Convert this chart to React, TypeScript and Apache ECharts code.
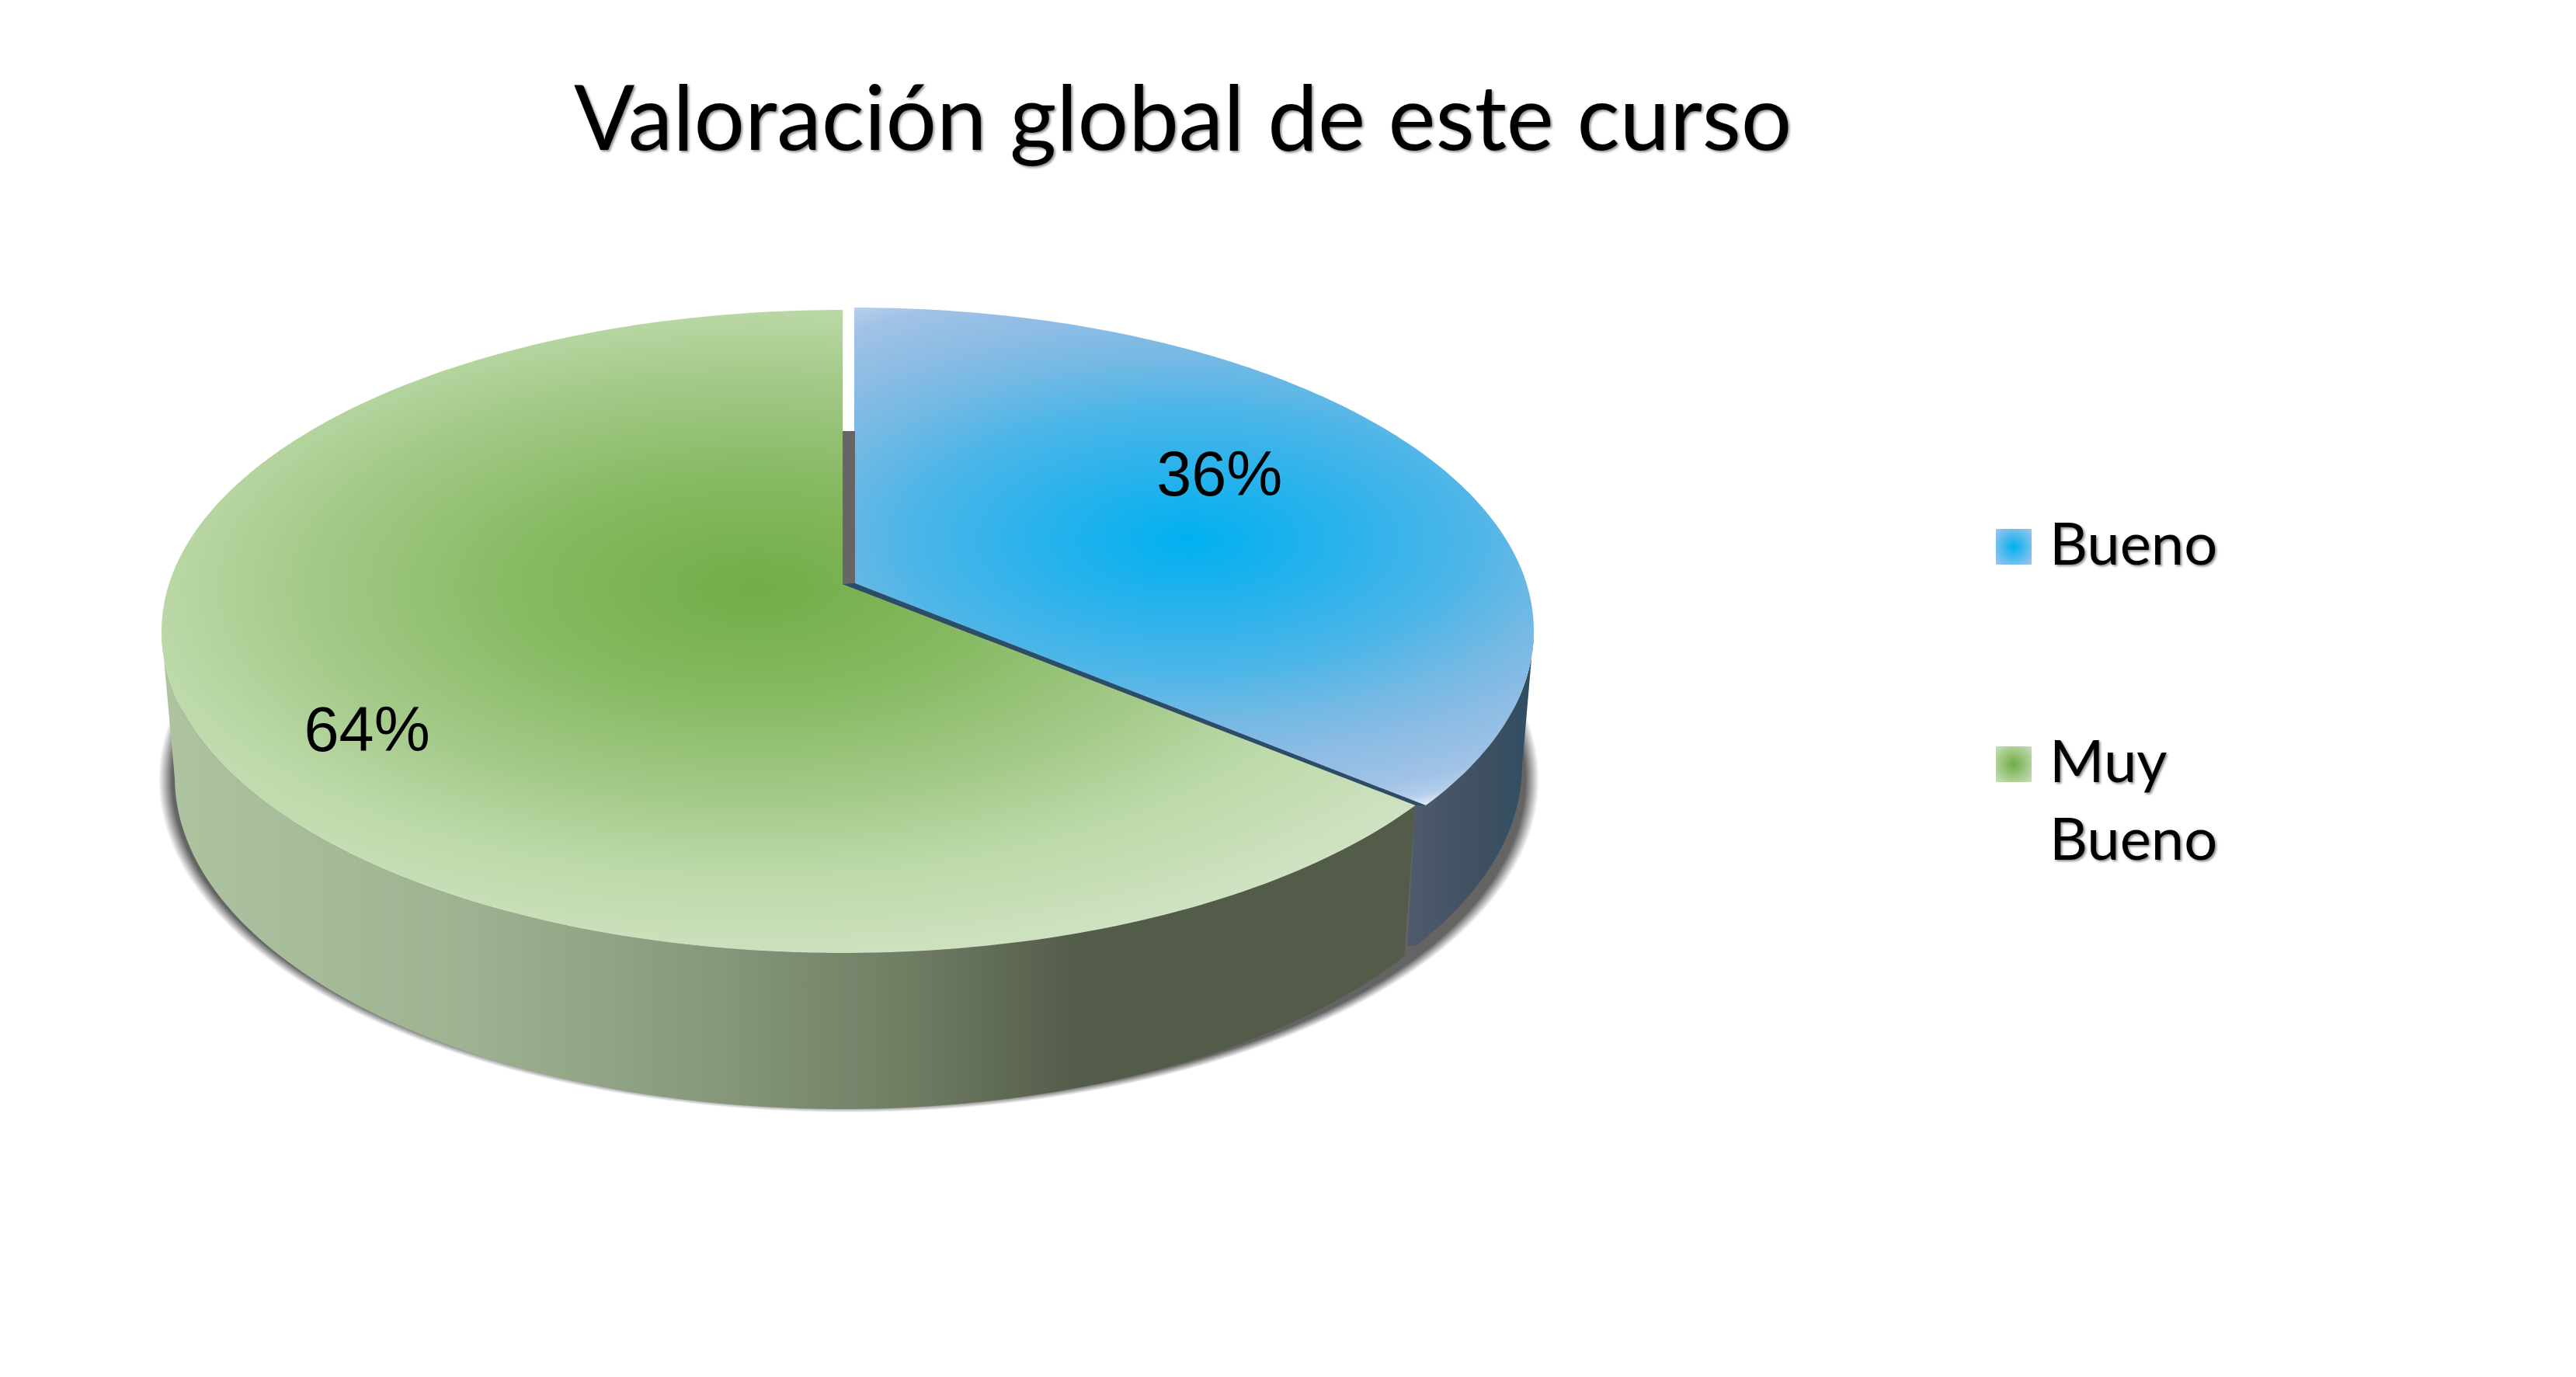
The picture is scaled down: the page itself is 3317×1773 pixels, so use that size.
import React, { useEffect, useRef } from "react";
import * as echarts from "echarts";

const titleText = "Valoración global de este curso";
const categories = ["Bueno", "Muy Bueno"];
const values = [36, 64];
const total = values.reduce((a, b) => a + b, 0);

// perspective of the disc: where the centre of the circle lands inside the ellipse
const persp = -0.147;
const tops = [
  { cx: 1100, cy: 812, rx: 875, ry: 416 },
  { cx: 1085, cy: 813, rx: 877, ry: 414 },
];
const bottoms = [
  { cx: 1100, cy: 985, rx: 860, ry: 430 },
  { cx: 1085, cy: 1000, rx: 860, ry: 428 },
];
const labelPlace = [
  { r: 0.678, shift: -7.2 },
  { r: 0.79, shift: -8 },
];
const ratioY = 0.47;
const faceGrad = [
  {
    x: 1530, y: 695, r: 790,
    stops: [
      [0, "#00b0f0"], [0.22, "#25b2ec"], [0.45, "#4bb5e8"], [0.62, "#72b9e4"], [0.76, "#8cbce4"], [0.9, "#a0c2e6"], [0.96, "#b4cdeb"], [1, "#e0ecf7"],
    ],
  },
  {
    x: 973, y: 757, r: 1040,
    stops: [
      [0, "#70ad47"], [0.3, "#88ba63"], [0.55, "#a3c988"], [0.75, "#bcd9a8"], [1, "#cfe2c2"],
    ],
  },
];
const sideGrad = [
  { x1: 1805, x2: 1975, stops: [[0, "#505c6e"], [0.6, "#3f5060"], [1, "#2f4e64"]] },
  {
    x1: 208, x2: 1810,
    stops: [[0, "#aec3a0"], [0.25, "#9db290"], [0.45, "#86977b"], [0.6, "#6f7d63"], [0.74, "#535b49"], [1, "#535b49"]],
  },
];
const dropShadow = { cx: 1093, cy: 1004, r: 889, scale: 0.482 };

const sliceStart = (i: number) => (values.slice(0, i).reduce((a, b) => a + b, 0) / total) * 360;
const sliceEnd = (i: number) => sliceStart(i) + (values[i] / total) * 360;

// unit circle -> normalised ellipse, with the perspective shift
function norm(deg: number, rad = 1) {
  const t = (deg * Math.PI) / 180;
  const x = rad * Math.sin(t);
  const y = -rad * Math.cos(t);
  const d = 1 + persp * y;
  return [(x * Math.sqrt(1 - persp * persp)) / d, (y + persp) / d];
}
const place = (e: any, n: number[]) => [e.cx + e.rx * n[0], e.cy + e.ry * n[1]];
const arc = (i: number) => {
  const out: number[][] = [];
  const a = sliceStart(i);
  const b = sliceEnd(i);
  const n = Math.ceil(b - a);
  for (let k = 0; k <= n; k++) out.push(norm(a + ((b - a) * k) / n));
  return out;
};
const apex = (i: number) => place(tops[i], norm(0, 0));

// the part of a slice's rim that faces the viewer: between the ellipse's side extreme and the slice's front edge
function frontRim(pts: number[][]) {
  let ext = 0;
  pts.forEach((p, k) => {
    if (Math.abs(p[0]) > Math.abs(pts[ext][0])) ext = k;
  });
  const frontEnd = pts[0][1] > pts[pts.length - 1][1] ? 0 : pts.length - 1;
  return ext < frontEnd ? pts.slice(ext, frontEnd + 1) : pts.slice(frontEnd, ext + 1);
}

function renderSlice(i: number, params: any, api: any) {
  const pts = arc(i);
  const top = pts.map((n) => place(tops[i], n));
  const rim = frontRim(pts);
  const rimTop = rim.map((n) => place(tops[i], n));
  const rimBot = rim.map((n) => place(bottoms[i], n));
  const children: any[] = [];

  if (i === 0) {
    const d = dropShadow;
    children.push({
      type: "circle",
      scaleY: d.scale,
      shape: { cx: d.cx, cy: d.cy / d.scale, r: d.r },
      style: {
        fill: new echarts.graphic.RadialGradient(
          d.cx, d.cy / d.scale, d.r,
          [
            { offset: 0, color: "rgba(100,100,100,1)" },
            { offset: 0.98, color: "rgba(100,100,100,1)" },
            { offset: 0.99, color: "rgba(100,100,100,0.5)" },
            { offset: 1, color: "rgba(100,100,100,0)" },
          ],
          true
        ),
      },
    });
  }
  if (i === 1) {
    const a0 = apex(0);
    const a1 = apex(1);
    const back = place(bottoms[0], norm(0));
    const tip0 = place(tops[0], norm(sliceEnd(0)));
    const tip1 = place(tops[1], norm(sliceEnd(0)));
    children.push({
      type: "polygon",
      shape: { points: [[a1[0], back[1]], [a0[0] + 1, back[1]], [a0[0] + 1, a0[1]], a1] },
      style: { fill: "#666666" },
    });
    children.push({
      type: "polygon",
      shape: { points: [a0, tip0, tip1, a1] },
      style: { fill: "#2b4d68" },
    });
  }
  const sg = sideGrad[i];
  // the first slice's rim runs on under the neighbour's edge, so no gap opens between the two walls
  const bridge =
    i === 0
      ? [
          place(tops[1], norm(sliceEnd(0))),
          [place(bottoms[1], norm(sliceEnd(0)))[0] + 4, place(bottoms[1], norm(sliceEnd(0)))[1] - 14],
        ]
      : [];
  children.push({
    type: "polygon",
    shape: { points: [...rimTop, ...bridge, ...rimBot.slice().reverse()] },
    style: {
      fill: new echarts.graphic.LinearGradient(
        sg.x1, 0, sg.x2, 0,
        sg.stops.map((s) => ({ offset: s[0] as number, color: s[1] as string })),
        true
      ),
    },
  });
  const fg = faceGrad[i];
  const face = [apex(i), ...top];
  children.push({
    type: "polygon",
    scaleY: ratioY,
    shape: { points: face.map((p) => [p[0], p[1] / ratioY]) },
    style: {
      fill: new echarts.graphic.RadialGradient(
        fg.x, fg.y / ratioY, fg.r,
        fg.stops.map((s) => ({ offset: s[0] as number, color: s[1] as string })),
        true
      ),
    },
  });
  const lp = labelPlace[i];
  const mid = (sliceStart(i) + sliceEnd(i)) / 2 + lp.shift;
  const lab = place(tops[i], norm(mid, lp.r));
  children.push({
    type: "text",
    x: lab[0],
    y: lab[1],
    style: {
      text: `${Math.round((api.value(0) / total) * 100)}%`,
      fontFamily: "Liberation Sans",
      fontSize: 81,
      fill: "#000000",
      align: "center",
      verticalAlign: "middle",
    },
  });
  return { type: "group", children };
}

const textShadow = { textShadowColor: "rgba(0,0,0,0.45)", textShadowBlur: 3, textShadowOffsetX: 2, textShadowOffsetY: 2 };
const legendFont = { fontFamily: "Lato", fontSize: 76, lineHeight: 100, color: "#000000", ...textShadow };

// legend rows: the swatch sits on the first line of each name
const legendText = (n: string) => {
  const words = n.split(" ");
  return words.length > 1
    ? `{h|\u00a0}\n${words.map((w) => `{t|${w}}`).join("\n")}`
    : `{t|${n}}\n{f|\u00a0}`;
};

export default function App() {
  const ref = useRef<HTMLDivElement>(null);
  useEffect(() => {
    const chart = echarts.init(ref.current!, undefined, { renderer: "svg" });
    chart.setOption({
      animation: false,
      backgroundColor: "#ffffff",
      title: {
        text: titleText,
        left: 739,
        top: 90,
        padding: 0,
        textStyle: { fontFamily: "Lato", fontSize: 115.6, fontWeight: "normal", color: "#000000", ...textShadow },
      },
      legend: {
        orient: "vertical",
        left: 2570,
        top: 647,
        padding: 0,
        itemWidth: 46,
        itemHeight: 46,
        itemGap: 80,
        icon: "rect",
        selectedMode: false,
        formatter: legendText,
        textStyle: {
          ...legendFont,
          rich: {
            t: { ...legendFont, padding: [0, 0, 0, 18] },
            h: { fontFamily: "Lato", fontSize: 10, lineHeight: 86 },
            f: { fontFamily: "Lato", fontSize: 10, lineHeight: 14 },
          },
        },
        data: [
          {
            name: categories[0],
            itemStyle: {
              color: new echarts.graphic.RadialGradient(0.5, 0.5, 0.7, [
                { offset: 0, color: "#00b0f0" },
                { offset: 1, color: "#a3c6ea" },
              ]),
            },
          },
          {
            name: categories[1],
            itemStyle: {
              color: new echarts.graphic.RadialGradient(0.5, 0.5, 0.7, [
                { offset: 0, color: "#70ad47" },
                { offset: 1, color: "#c9e0ba" },
              ]),
            },
          },
        ],
      },
      series: categories.map((name, i) => ({
        type: "custom",
        name,
        coordinateSystem: "none",
        silent: true,
        data: [[values[i]]],
        renderItem: (p: any, api: any) => renderSlice(i, p, api),
      })),
    });
    return () => chart.dispose();
  }, []);
  return <div ref={ref} style={{ position: "fixed", left: 0, top: 0, width: 3317, height: 1773 }} />;
}
